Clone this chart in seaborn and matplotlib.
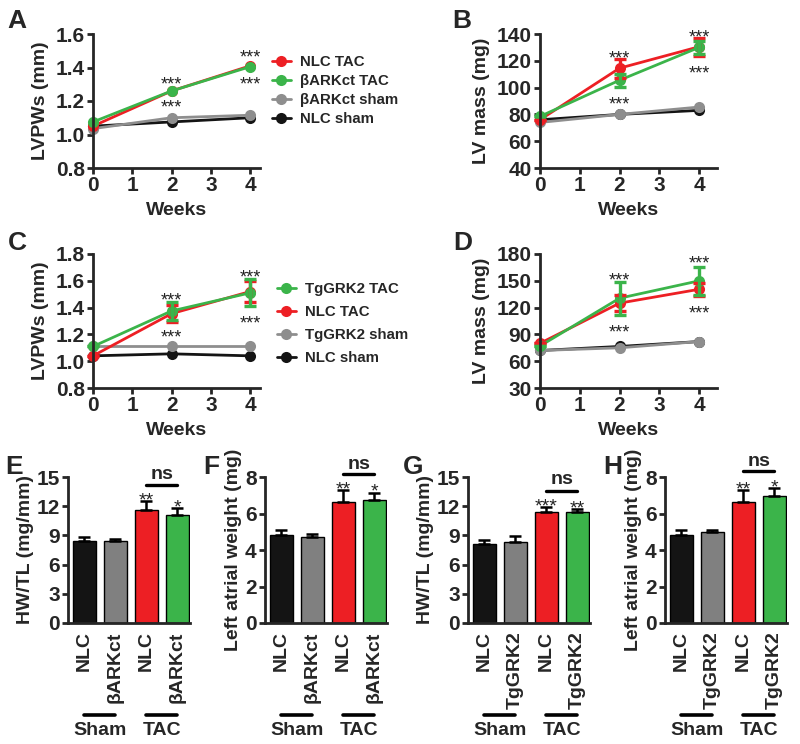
import numpy as np
import pandas as pd
import matplotlib
matplotlib.use("Agg")
import matplotlib.pyplot as plt
from matplotlib.lines import Line2D
import seaborn as sns

sns.set_style("ticks")
plt.rcParams['font.family'] = ['Liberation Sans', 'DejaVu Sans']
plt.rcParams['font.weight'] = 'bold'
plt.rcParams['axes.labelweight'] = 'bold'

RED = '#ED1F24'
GREEN = '#3BB44A'
GRAY = '#8E8E8E'
BLACK = '#141414'

weeks = [0, 2, 4]

# panel A - LVPWs, bARKct study
a_nlc_tac = [1.05, 1.26, 1.41]
a_bark_tac = [1.075, 1.26, 1.405]
a_bark_sham = [1.035, 1.10, 1.115]
a_nlc_sham = [1.05, 1.075, 1.10]

# panel B - LV mass, bARKct study
b_nlc_tac = [76, 114.5, 130.5]
b_nlc_tac_err = [0, 7, 6.7]
b_bark_tac = [78.5, 105.5, 130]
b_bark_tac_err = [0, 5, 5]
b_bark_sham = [74, 80, 85.5]
b_nlc_sham = [76, 80, 83]

# panel C - LVPWs, TgGRK2 study
c_tg_tac = [1.11, 1.375, 1.51]
c_tg_tac_err = [0, 0.065, 0.10]
c_nlc_tac = [1.04, 1.355, 1.52]
c_nlc_tac_err = [0, 0.065, 0.075]
c_tg_sham = [1.11, 1.11, 1.11]
c_nlc_sham = [1.04, 1.055, 1.04]

# panel D - LV mass, TgGRK2 study
d_tg_tac = [77, 130.5, 150]
d_tg_tac_err = [0, 18.5, 15.5]
d_nlc_tac = [80, 125, 140.5]
d_nlc_tac_err = [0, 9, 7.5]
d_tg_sham = [72, 75, 82]
d_nlc_sham = [72, 76.5, 82]

# significance stars (week, y) for line panels
a_stars = [(2, 1.266), (2, 1.130), (4, 1.429), (4, 1.266)]
b_stars = [(2, 117.8), (2, 83.8), (4, 133.5), (4, 106.6)]
c_stars = [(2, 1.419), (2, 1.138), (4, 1.586), (4, 1.243)]
d_stars = [(2, 145.3), (2, 87.1), (4, 163.5), (4, 108.0)]

# bar panels
bar_colors = [BLACK, '#808080', RED, GREEN]
bark_ticks = ['NLC', 'βARKct', 'NLC', 'βARKct']
tg_ticks = ['NLC', 'TgGRK2', 'NLC', 'TgGRK2']

e_vals = [8.4, 8.4, 11.65, 11.1]
e_err = [0.4, 0.25, 0.85, 0.7]
e_stars = ['', '', '**', '*']
f_vals = [4.84, 4.69, 6.65, 6.74]
f_err = [0.26, 0.2, 0.62, 0.4]
f_stars = ['', '', '**', '*']
g_vals = [8.15, 8.3, 11.37, 11.37]
g_err = [0.41, 0.6, 0.55, 0.34]
g_stars = ['', '', '***', '**']
h_vals = [4.8, 4.97, 6.65, 6.98]
h_err = [0.3, 0.14, 0.62, 0.42]
h_stars = ['', '', '**', '*']

TICK_FS = 15
LAB_FS = 14


def style_axes(ax):
    sns.despine(ax=ax)
    for s in ['left', 'bottom']:
        ax.spines[s].set_linewidth(2.0)
    ax.tick_params(width=2.0, length=4, pad=2, labelsize=TICK_FS)
    for t in ax.get_xticklabels() + ax.get_yticklabels():
        t.set_fontweight('bold')


def line_panel(ax, names, series, colors, errs, stars, ylim, yticks, ylabel, xmax, legend_order=None, legend_pos=None, lspace=0.2):
    rows = []
    for n, vals in zip(names, series):
        for w, v in zip(weeks, vals):
            rows.append({'week': w, 'value': v, 'group': n})
    df = pd.DataFrame(rows)
    sns.lineplot(data=df, x='week', y='value', hue='group', hue_order=names,
                 palette=dict(zip(names, colors)), marker='o', markersize=8,
                 markeredgewidth=0, linewidth=2.0, clip_on=False, ax=ax, legend=False)
    for n, vals, c in zip(names, series, colors):
        if n in errs:
            ax.errorbar(weeks, vals, yerr=errs[n], fmt='none', ecolor=c,
                        elinewidth=2.4, capsize=4.5, capthick=2.4, clip_on=False)
    for (x, y) in stars:
        ax.text(x, y, '***', ha='center', va='baseline', fontsize=13,
                fontweight='normal', color='#222222')
    ax.set_xlim(0, xmax)
    ax.set_ylim(*ylim)
    ax.set_xticks([0, 1, 2, 3, 4])
    ax.set_yticks(yticks)
    ax.set_xlabel('Weeks', fontsize=LAB_FS, labelpad=5)
    ax.set_ylabel(ylabel, fontsize=LAB_FS, labelpad=5)
    style_axes(ax)
    if legend_order:
        cmap = dict(zip(names, colors))
        handles = [Line2D([0], [0], color=cmap[n], marker='o', markersize=8,
                          markeredgewidth=0, lw=2.0) for n in legend_order]
        ax.legend(handles, legend_order, loc='upper left', bbox_to_anchor=legend_pos,
                  frameon=False, borderpad=0, borderaxespad=0, handlelength=1.3,
                  handletextpad=0.6, labelspacing=lspace,
                  prop={'size': 10.8, 'weight': 'bold'})


def bar_panel(ax, vals, errs, stars, ticks, ylim, yticks, ylabel, ns_line, ns_text):
    groups = [f'{t} {g}' for t, g in zip(ticks, ['sham', 'sham', 'TAC', 'TAC'])]
    sns.barplot(x=groups, y=vals, hue=groups, palette=bar_colors, legend=False,
                saturation=1, width=0.73, edgecolor='black', linewidth=1.0,
                errorbar=None, ax=ax)
    ax.errorbar(range(4), vals, yerr=[[0] * 4, errs], fmt='none', ecolor='black',
                elinewidth=1.8, capsize=4, capthick=1.8, clip_on=False)
    for i, (v, e, s) in enumerate(zip(vals, errs, stars)):
        if s:
            ax.annotate(s, xy=(i, v + e), xytext=(0, -3), textcoords='offset points',
                        ha='center', va='baseline', fontsize=14, fontweight='normal',
                        color='#222222', annotation_clip=False)
    # ns bracket
    ax.plot([2, 3], [ns_line, ns_line], color='black', lw=2.4, clip_on=False)
    ax.text(2.5, ns_text, 'ns', ha='center', va='center', fontsize=LAB_FS, clip_on=False)
    ax.set_yticks(yticks)
    ax.set_xticks(range(4))
    ax.set_xticklabels(ticks, rotation=90, fontweight='bold')
    ax.set_xlabel('')
    ax.set_ylabel(ylabel, fontsize=LAB_FS, labelpad=2)
    style_axes(ax)
    ax.tick_params(axis='x', length=0, pad=6, labelsize=LAB_FS)
    trans = ax.get_xaxis_transform()
    for x0, x1, lab in [(0, 1, 'Sham'), (2, 3, 'TAC')]:
        ax.plot([x0, x1], [-0.63, -0.63], transform=trans, color='black', lw=2.6, clip_on=False)
        ax.text((x0 + x1) / 2, -0.733, lab, transform=trans, ha='center', va='center',
                fontsize=LAB_FS)
    ax.set_xlim(-0.53, 3.41)
    ax.set_ylim(*ylim)


fig = plt.figure(figsize=(8, 7.44), dpi=100)

W, H = 800, 744


def axes_px(x0, y0, x1, y1):
    return fig.add_axes([x0 / W, 1 - y1 / H, (x1 - x0) / W, (y1 - y0) / H])


axA = axes_px(93, 34, 260, 168)
axB = axes_px(540, 34, 717, 168)
axC = axes_px(93, 254, 260, 388)
axD = axes_px(540, 254, 717, 388)
axE = axes_px(68, 477, 190, 623)
axF = axes_px(265, 477, 387, 623)
axG = axes_px(468, 477, 590, 623)
axH = axes_px(665, 477, 787, 623)

a_names = ['NLC sham', 'βARKct sham', 'NLC TAC', 'βARKct TAC']
line_panel(axA, a_names, [a_nlc_sham, a_bark_sham, a_nlc_tac, a_bark_tac],
           [BLACK, GRAY, RED, GREEN], {}, a_stars, (0.8, 1.6),
           [0.8, 1.0, 1.2, 1.4, 1.6], 'LVPWs (mm)', 4.25,
           legend_order=['NLC TAC', 'βARKct TAC', 'βARKct sham', 'NLC sham'],
           legend_pos=(1.07, 0.84), lspace=0.33)
line_panel(axB, a_names, [b_nlc_sham, b_bark_sham, b_nlc_tac, b_bark_tac],
           [BLACK, GRAY, RED, GREEN],
           {'NLC TAC': b_nlc_tac_err, 'βARKct TAC': b_bark_tac_err}, b_stars,
           (40, 140), [40, 60, 80, 100, 120, 140], 'LV mass (mg)', 4.45)

c_names = ['NLC sham', 'TgGRK2 sham', 'NLC TAC', 'TgGRK2 TAC']
line_panel(axC, c_names, [c_nlc_sham, c_tg_sham, c_nlc_tac, c_tg_tac],
           [BLACK, GRAY, RED, GREEN],
           {'NLC TAC': c_nlc_tac_err, 'TgGRK2 TAC': c_tg_tac_err}, c_stars,
           (0.8, 1.8), [0.8, 1.0, 1.2, 1.4, 1.6, 1.8], 'LVPWs (mm)', 4.25,
           legend_order=['TgGRK2 TAC', 'NLC TAC', 'TgGRK2 sham', 'NLC sham'],
           legend_pos=(1.10, 0.79), lspace=0.6)
line_panel(axD, c_names, [d_nlc_sham, d_tg_sham, d_nlc_tac, d_tg_tac],
           [BLACK, GRAY, RED, GREEN],
           {'NLC TAC': d_nlc_tac_err, 'TgGRK2 TAC': d_tg_tac_err}, d_stars,
           (30, 180), [30, 60, 90, 120, 150, 180], 'LV mass (mg)', 4.45)

bar_panel(axE, e_vals, e_err, e_stars, bark_ticks, (0, 15), [0, 3, 6, 9, 12, 15],
          'HW/TL (mg/mm)', 14.2, 15.25)
bar_panel(axF, f_vals, f_err, f_stars, bark_ticks, (0, 8), [0, 2, 4, 6, 8],
          'Left atrial weight (mg)', 8.16, 8.71)
bar_panel(axG, g_vals, g_err, g_stars, tg_ticks, (0, 15), [0, 3, 6, 9, 12, 15],
          'HW/TL (mg/mm)', 13.6, 14.7)
bar_panel(axH, h_vals, h_err, h_stars, tg_ticks, (0, 8), [0, 2, 4, 6, 8],
          'Left atrial weight (mg)', 8.31, 8.86)

for lab, x, y in [('A', 7, 28), ('B', 452, 28), ('C', 8, 250), ('D', 453, 250),
                  ('E', 5, 474), ('F', 203, 474), ('G', 403, 474), ('H', 603, 474)]:
    fig.text(x / W, 1 - y / H, lab, fontsize=19, fontweight='bold', va='baseline', ha='left')

fig.savefig('out.png', dpi=100)
